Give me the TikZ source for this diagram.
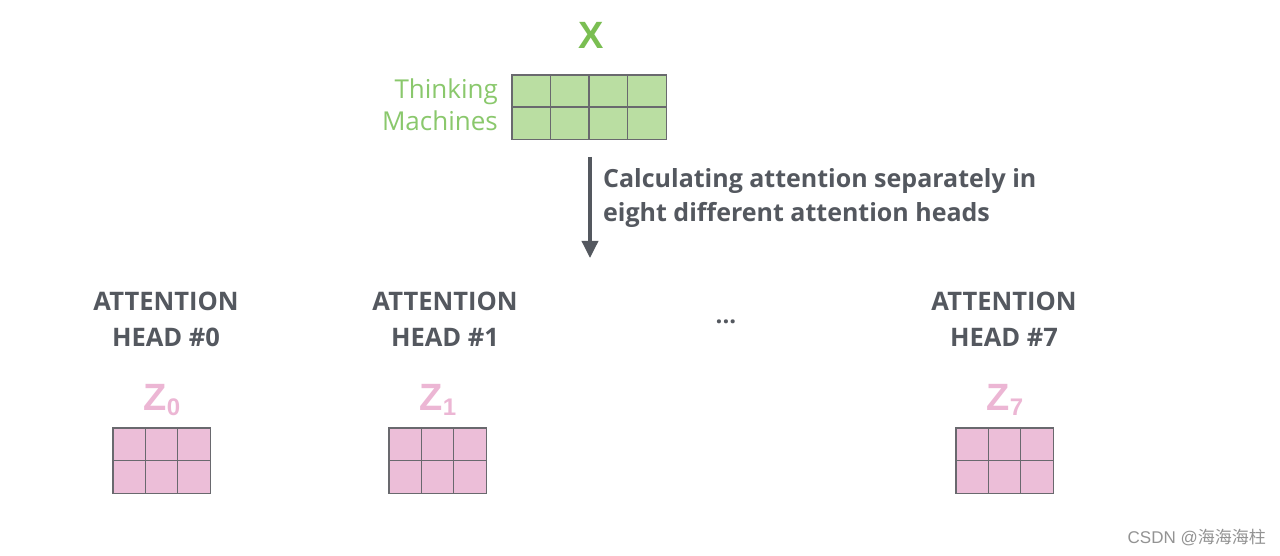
\documentclass[tikz,border=0pt]{standalone}
\usepackage{fontspec}
\setmainfont{Open Sans}
\newfontfamily\cjk{Noto Sans CJK SC}
\newfontfamily\zfont{Liberation Sans}
\usetikzlibrary{arrows.meta,calc}
\definecolor{xgreen}{RGB}{122,190,82}
\definecolor{tgreen}{RGB}{138,200,108}
\definecolor{cellgreen}{RGB}{186,222,162}
\definecolor{cellpink}{RGB}{236,190,216}
\definecolor{zpink}{RGB}{236,182,212}
\definecolor{txtgray}{RGB}{84,88,95}
\definecolor{gridgray}{RGB}{105,105,110}
\tikzset{
  headlbl/.style={font=\fontsize{25.5}{36}\selectfont\bfseries, text=txtgray, align=center, inner sep=0pt},
  zlbl/.style={font=\zfont\fontsize{38}{38}\selectfont\bfseries, text=zpink, inner sep=0pt},
  gridln/.style={draw=gridgray, line width=1.4pt},
}
\begin{document}
\begin{tikzpicture}[x=1pt,y=-1pt]
\useasboundingbox[fill=white] (0,0) rectangle (1280,556);
% X matrix
\node[xgreen, font=\zfont\fontsize{38}{38}\selectfont\bfseries, inner sep=0pt] (X) at (591,35) {X};
\node[fill=cellgreen, minimum width=154pt, minimum height=64pt, inner sep=0pt, anchor=north west] (xm) at (512,75) {};
\foreach \i in {1,2,3} \draw[gridln] ($(xm.north west)+(\i*38.5,0)$) -- ($(xm.south west)+(\i*38.5,0)$);
\draw[gridln] (xm.west) -- (xm.east);
\draw[gridln] (xm.north west) rectangle (xm.south east);
\node[tgreen, font=\fontsize{26}{32}\selectfont, align=right, anchor=east, inner sep=0pt] (tm) at (498,105) {Thinking\\Machines};
% arrow
\coordinate (a1) at (590,157);
\coordinate (a2) at (590,258);
\draw[txtgray, line width=3.5pt, -{Triangle[width=16pt,length=17pt]}] (a1) -- (a2);
\node[txtgray, font=\fontsize{25}{34}\selectfont\bfseries, align=left, anchor=west, inner sep=0pt] (calc) at (603,198) {Calculating attention separately in\\eight different attention heads};
% heads
\node[headlbl] (h0) at (166,319) {ATTENTION\\HEAD \#0};
\node[headlbl] (h1) at (445,319) {ATTENTION\\HEAD \#1};
\node[headlbl] (h7) at (1004,319) {ATTENTION\\HEAD \#7};
\node[txtgray, font=\fontsize{24}{24}\selectfont\bfseries, inner sep=0pt] (dots) at (726,322) {...};
\foreach \n/\cx/\s in {0/162/0,1/438/1,7/1005/7}{
  \node[zlbl] (z\n) at (\cx,400) {Z\raisebox{-5pt}{\fontsize{24}{24}\selectfont \s}};
}
\foreach \n/\lx in {0/113,1/389,7/956}{
  \node[fill=cellpink, minimum width=97pt, minimum height=65pt, inner sep=0pt, anchor=north west] (m\n) at (\lx,428) {};
  \foreach \i in {1,2} \draw[gridln] ($(m\n.north west)+(\i*32.33,0)$) -- ($(m\n.south west)+(\i*32.33,0)$);
  \draw[gridln] (m\n.west) -- (m\n.east);
  \draw[gridln] (m\n.north west) rectangle (m\n.south east);
}
\node[anchor=east, text=gray!85, font=\zfont\fontsize{17}{17}\selectfont, inner sep=0pt] (wm) at (1266,538) {CSDN @{\cjk 海海海柱}};
\end{tikzpicture}
\end{document}
